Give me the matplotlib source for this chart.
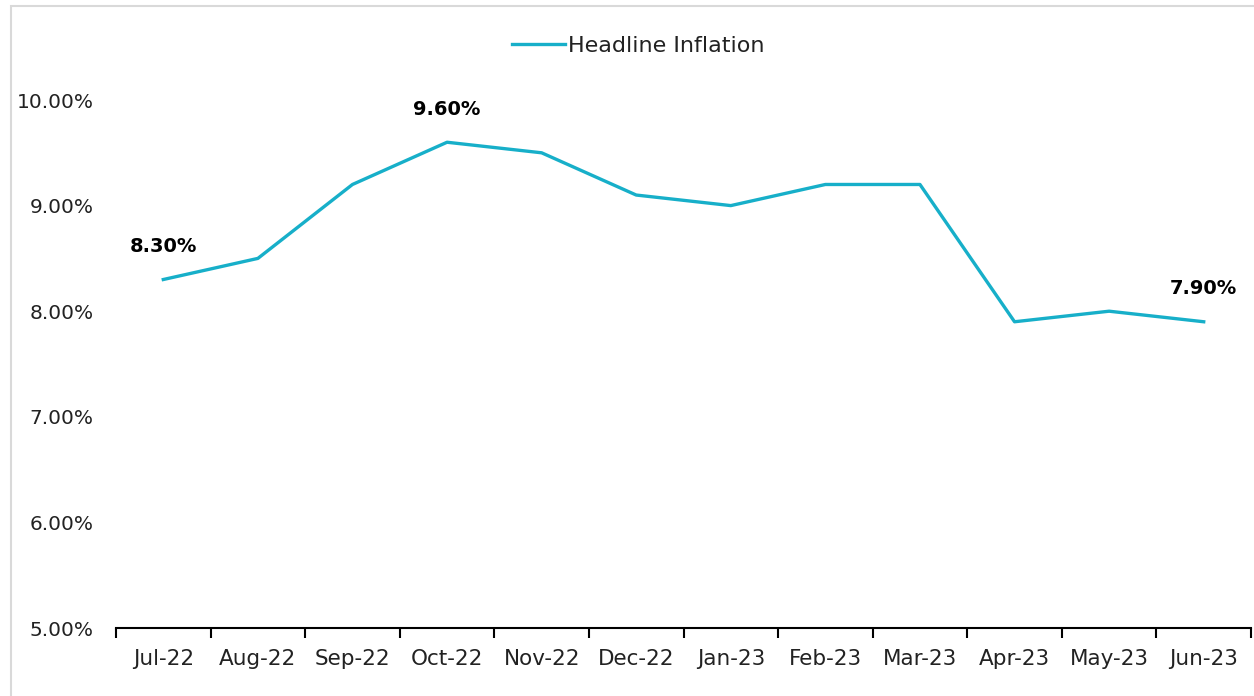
import matplotlib.pyplot as plt
from matplotlib.ticker import FixedLocator, FuncFormatter
from matplotlib.patches import Rectangle

# monthly headline inflation, %
months = ['Jul-22', 'Aug-22', 'Sep-22', 'Oct-22', 'Nov-22', 'Dec-22',
          'Jan-23', 'Feb-23', 'Mar-23', 'Apr-23', 'May-23', 'Jun-23']
inflation = [8.3, 8.5, 9.2, 9.6, 9.5, 9.1, 9.0, 9.2, 9.2, 7.9, 8.0, 7.9]
labelled = [0, 3, 11]  # points that get a value label

plt.rcParams['font.family'] = ['DejaVu Sans']

fig = plt.figure(figsize=(12.54, 6.96), dpi=100)
ax = fig.add_axes([116 / 1254, 1 - 628 / 696, 1135 / 1254, 528 / 696])

# thin grey frame round the chart area
fig.patches.append(Rectangle((11 / 1254, -0.01), 1.02, 1 - 6 / 696 + 0.01,
                             transform=fig.transFigure, fill=False,
                             edgecolor='#d9d9d9', linewidth=1.5))

x = list(range(len(months)))
ax.plot(x, inflation, color='#17afc9', linewidth=2.4, label='Headline Inflation')

for i in labelled:
    ax.annotate(f'{inflation[i]:.2f}%', (x[i], inflation[i]),
                xytext=(0, 17), textcoords='offset points', ha='center',
                va='bottom', fontsize=14, fontweight='bold')

ax.set_xlim(-0.5, len(months) - 0.5)
ax.set_ylim(5, 10)
ax.set_yticks([5, 6, 7, 8, 9, 10])
ax.yaxis.set_major_formatter(FuncFormatter(lambda v, p: f'{v:.2f}%'))
ax.tick_params(axis='y', length=0, labelsize=14.5, pad=16, labelcolor='#222222')

ax.set_xticks(x)
ax.set_xticklabels(months)
ax.xaxis.set_minor_locator(FixedLocator([i - 0.5 for i in range(len(months) + 1)]))
ax.tick_params(axis='x', which='major', length=0, labelsize=15.5, pad=15, labelcolor='#222222')
ax.tick_params(axis='x', which='minor', length=7, width=1.5, direction='out')

for s in ['left', 'right', 'top']:
    ax.spines[s].set_visible(False)
ax.spines['bottom'].set_linewidth(1.5)

leg = ax.legend(loc='upper center', bbox_to_anchor=(0.46, 1.16), frameon=False,
                fontsize=16, handlelength=2.4, handletextpad=0.1)
for t in leg.get_texts():
    t.set_color('#222222')

fig.savefig('out.png', dpi=100)
